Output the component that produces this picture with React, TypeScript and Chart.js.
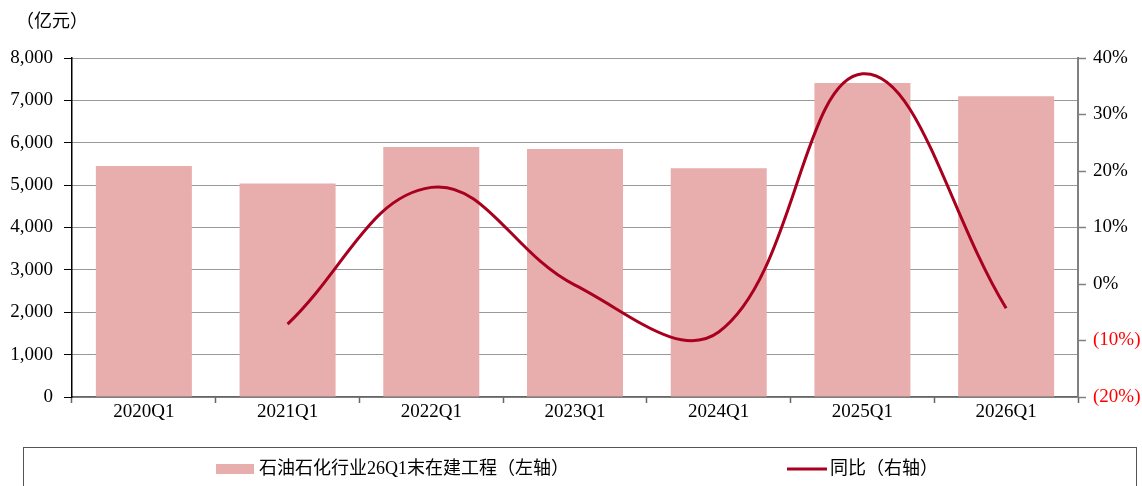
import React, { useEffect, useRef } from "react";
import { Chart, registerables } from "chart.js";

Chart.register(...registerables);

const categories = ["2020Q1", "2021Q1", "2022Q1", "2023Q1", "2024Q1", "2025Q1", "2026Q1"];
const constructionValues = [5450, 5040, 5900, 5850, 5400, 7410, 7100];
const yoyValues: (number | null)[] = [null, -7.1, 17.1, -0.2, -8.5, 37.2, -4.3];
const leftTicks = [0, 1000, 2000, 3000, 4000, 5000, 6000, 7000, 8000];
const rightTicks = [-20, -10, 0, 10, 20, 30, 40];
const barLabel = "石油石化行业26Q1末在建工程（左轴）";
const lineLabel = "同比（右轴）";
const unitLabel = "（亿元）";

const BAR_COLOR = "#E8ADAD";
const LINE_COLOR = "#A8001E";
const FONT = "'Liberation Serif', 'Noto Sans CJK SC', serif";

const extrasPlugin = {
  id: "extras",
  afterDraw(chart: any) {
    const ctx = chart.ctx;
    ctx.save();
    // unit label
    ctx.fillStyle = "#000";
    ctx.font = `18px ${FONT}`;
    ctx.textBaseline = "middle";
    ctx.textAlign = "left";
    ctx.fillText(unitLabel, 16, 22);
    // legend box
    ctx.strokeStyle = "#555";
    ctx.lineWidth = 1;
    ctx.strokeRect(23.5, 447.5, 1113, 60);
    // bar legend
    ctx.fillStyle = BAR_COLOR;
    ctx.fillRect(216, 464, 38, 10);
    ctx.fillStyle = "#000";
    ctx.font = `18px ${FONT}`;
    ctx.fillText(barLabel, 259, 469);
    // line legend
    ctx.strokeStyle = LINE_COLOR;
    ctx.lineWidth = 3;
    ctx.beginPath();
    ctx.moveTo(787, 469);
    ctx.lineTo(827, 469);
    ctx.stroke();
    ctx.fillText(lineLabel, 830, 469);
    ctx.restore();
  },
};

export default function App() {
  const ref = useRef<HTMLCanvasElement>(null);
  useEffect(() => {
    const prevMargin = document.body.style.margin;
    document.body.style.margin = "0";
    const chart = new Chart(ref.current!, {
      type: "bar",
      data: {
        labels: categories,
        datasets: [
          {
            type: "line",
            label: lineLabel,
            data: yoyValues,
            yAxisID: "y1",
            borderColor: LINE_COLOR,
            backgroundColor: LINE_COLOR,
            borderWidth: 3,
            pointRadius: 0,
            tension: 0.4,
            spanGaps: false,
            order: 0,
          } as any,
          {
            type: "bar",
            label: barLabel,
            data: constructionValues,
            yAxisID: "y",
            backgroundColor: BAR_COLOR,
            categoryPercentage: 1,
            barPercentage: 0.668,
            order: 1,
          },
        ],
      },
      options: {
        responsive: false,
        animation: false,
        layout: { padding: { top: 58, left: 0, right: 0, bottom: 0 } },
        plugins: {
          legend: { display: false },
          tooltip: { enabled: false },
        },
        scales: {
          x: {
            offset: true,
            grid: {
              display: true,
              offset: true,
              drawOnChartArea: false,
              drawTicks: true,
              tickLength: 6,
              tickColor: "#666",
              tickWidth: 1.5,
            },
            border: { display: true, color: "#666", width: 1.5 },
            ticks: {
              color: "#000",
              font: { family: FONT, size: 19 },
              padding: -2,
              maxRotation: 0,
            },
            afterFit: (s: any) => {
              s.height = 89;
            },
          },
          y: {
            position: "left",
            min: 0,
            max: 8000,
            afterBuildTicks: (s: any) => {
              s.ticks = leftTicks.map((v) => ({ value: v }));
            },
            grid: {
              color: "#333",
              lineWidth: 1,
              drawOnChartArea: true,
              drawTicks: true,
              tickLength: 8,
              tickColor: "#000",
              tickWidth: 1,
              tickBorderDash: [],
            },
            border: { display: true, color: "#000", width: 1.5, dash: [1, 1] },
            ticks: {
              color: "#000",
              font: { family: FONT, size: 19 },
              padding: 11,
              callback: (v: any) => Number(v).toLocaleString("en-US"),
            },
            afterFit: (s: any) => {
              s.width = 72;
            },
          },
          y1: {
            position: "right",
            min: -20,
            max: 40,
            afterBuildTicks: (s: any) => {
              s.ticks = rightTicks.map((v) => ({ value: v }));
            },
            grid: {
              drawOnChartArea: false,
              drawTicks: true,
              tickLength: 8,
              tickColor: "#808080",
              tickWidth: 1.5,
            },
            border: { display: true, color: "#808080", width: 2 },
            ticks: {
              color: (c: any) => (c.tick && c.tick.value < 0 ? "#FF0000" : "#000"),
              font: { family: FONT, size: 19 },
              padding: 7,
              callback: (v: any) => (Number(v) < 0 ? `(${-Number(v)}%)` : `${v}%`),
            },
            afterFit: (s: any) => {
              s.width = 64;
            },
          },
        },
      },
      plugins: [extrasPlugin],
    });
    return () => {
      chart.destroy();
      document.body.style.margin = prevMargin;
    };
  }, []);
  return (
    <div style={{ position: "absolute", left: 0, top: 0, width: 1142, height: 486, background: "#fff" }}>
      <canvas ref={ref} width={1142} height={486} style={{ display: "block" }} />
    </div>
  );
}
